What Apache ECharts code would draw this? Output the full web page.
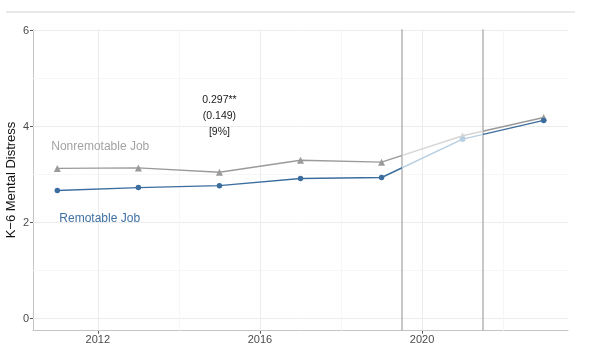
<!DOCTYPE html>
<html>
<head>
<meta charset="utf-8">
<script src="https://cdn.jsdelivr.net/npm/echarts@6/dist/echarts.min.js"></script>
<style>html,body{margin:0;padding:0;background:#fff;}#c{width:590px;height:354px;}</style>
</head>
<body>
<div id="c"></div>
<script>
const years = [2011, 2013, 2015, 2017, 2019, 2021, 2023];
const nonremotable = [3.13, 3.14, 3.05, 3.30, 3.26, 3.81, 4.19];
const remotable = [2.67, 2.73, 2.77, 2.92, 2.94, 3.74, 4.13];
const yTicks = [0, 2, 4, 6];
const yMinor = [1, 3, 5];
const xTicks = [2012, 2016, 2020];
const xMinor = [2014, 2018, 2022];
const periodBreaks = [2019.5, 2021.5];
const annotation = ['0.297**', '(0.149)', '[9%]'];
const annotationPos = [2015, 4.22];
const nonremLabelPos = [2010.85, 3.59];
const remLabelPos = [2011.05, 2.09];

const FONT = 'Liberation Sans, Arial, sans-serif';
const GRAY = '#9a9a9a', GRAY_L = '#d6d6d6';
const BLUE = '#3b6d9e', BLUE_L = '#b7cfe2';

function pairs(xs, ys) { return xs.map((x, i) => [x, ys[i]]); }

const gridLines = [];
yTicks.forEach(v => gridLines.push({yAxis: v, lineStyle: {color: '#ececec', width: 1, type: 'solid'}}));
yMinor.forEach(v => gridLines.push({yAxis: v, lineStyle: {color: '#f6f6f6', width: 1, type: 'solid'}}));
xTicks.forEach(v => gridLines.push({xAxis: v, lineStyle: {color: '#ececec', width: 1, type: 'solid'}}));
xMinor.forEach(v => gridLines.push({xAxis: v, lineStyle: {color: '#f6f6f6', width: 1, type: 'solid'}}));

const chart = echarts.init(document.getElementById('c'), null, {renderer: 'canvas'});
chart.setOption({
  animation: false,
  backgroundColor: '#fff',
  textStyle: {fontFamily: FONT},
  graphic: [{
    type: 'line', shape: {x1: 6, y1: 12, x2: 575, y2: 12},
    style: {stroke: '#e2e2e2', lineWidth: 1.5}, silent: true
  }],
  grid: {left: 33, right: 22, top: 29.3, bottom: 23.3, containLabel: false, outerBoundsMode: 'none'},
  xAxis: {
    type: 'value', min: 2010.4, max: 2023.6,
    axisLine: {show: true, onZero: false, lineStyle: {color: '#c4c4c4', width: 1}},
    axisTick: {show: true, customValues: xTicks, length: 3, lineStyle: {color: '#555'}},
    axisLabel: {show: true, customValues: xTicks, color: '#4a4a4a', fontSize: 11, margin: 4, fontFamily: FONT,
      formatter: v => String(v)},
    splitLine: {show: false}
  },
  yAxis: {
    type: 'value', min: -0.254, max: 6.03,
    name: 'K\u22126 Mental Distress', nameLocation: 'middle', nameGap: 15, nameMoveOverlap: false,
    nameTextStyle: {color: '#111', fontSize: 13, fontFamily: FONT},
    axisLine: {show: true, onZero: false, lineStyle: {color: '#c4c4c4', width: 1}},
    axisTick: {show: true, customValues: yTicks, length: 3, lineStyle: {color: '#555'}},
    axisLabel: {show: true, customValues: yTicks, color: '#4a4a4a', fontSize: 11, margin: 4, fontFamily: FONT,
      formatter: v => String(v)},
    splitLine: {show: false}
  },
  visualMap: [
    {type: 'piecewise', show: false, seriesIndex: 1, dimension: 0,
     pieces: [{lt: periodBreaks[0], color: GRAY}, {gte: periodBreaks[0], lt: periodBreaks[1], color: GRAY_L}, {gte: periodBreaks[1], color: GRAY}]},
    {type: 'piecewise', show: false, seriesIndex: 2, dimension: 0,
     pieces: [{lt: periodBreaks[0], color: BLUE}, {gte: periodBreaks[0], lt: periodBreaks[1], color: BLUE_L}, {gte: periodBreaks[1], color: BLUE}]}
  ],
  series: [
    {
      type: 'line', data: [], silent: true,
      markLine: {silent: true, symbol: 'none', label: {show: false}, data: gridLines, animation: false}
    },
    {
      name: 'Nonremotable Job', type: 'line', data: pairs(years, nonremotable),
      symbol: 'triangle', symbolSize: 7, lineStyle: {width: 1.4},
      z: 5,
      markPoint: {
        symbol: 'circle', symbolSize: 0,
        data: [{coord: nonremLabelPos, value: 'Nonremotable Job'}],
        label: {show: true, position: 'inside', align: 'left', verticalAlign: 'middle', formatter: 'Nonremotable Job', color: '#a3a3a3', fontSize: 12, fontFamily: FONT}
      }
    },
    {
      name: 'Remotable Job', type: 'line', data: pairs(years, remotable),
      symbol: 'circle', symbolSize: 5.5, lineStyle: {width: 1.4},
      z: 6,
      markPoint: {
        symbol: 'circle', symbolSize: 0,
        data: [{coord: remLabelPos, value: 'Remotable Job'}],
        label: {show: true, position: 'inside', align: 'left', verticalAlign: 'middle', formatter: 'Remotable Job', color: '#3f70a2', fontSize: 12, fontFamily: FONT}
      }
    },
    {
      type: 'line', data: [], silent: true,
      markLine: {silent: true, symbol: 'none', label: {show: false},
        data: periodBreaks.map(v => ({xAxis: v})),
        lineStyle: {color: '#b4b4b4', width: 1.5, type: 'solid'}},
      markPoint: {
        symbol: 'circle', symbolSize: 0,
        data: [{coord: annotationPos, value: 0}],
        label: {show: true, position: 'inside', align: 'center', verticalAlign: 'middle',
          formatter: annotation.join('\n'), color: '#1a1a1a', fontSize: 10.5, lineHeight: 16, fontFamily: FONT}
      }
    }
  ]
});
</script>
</body>
</html>
